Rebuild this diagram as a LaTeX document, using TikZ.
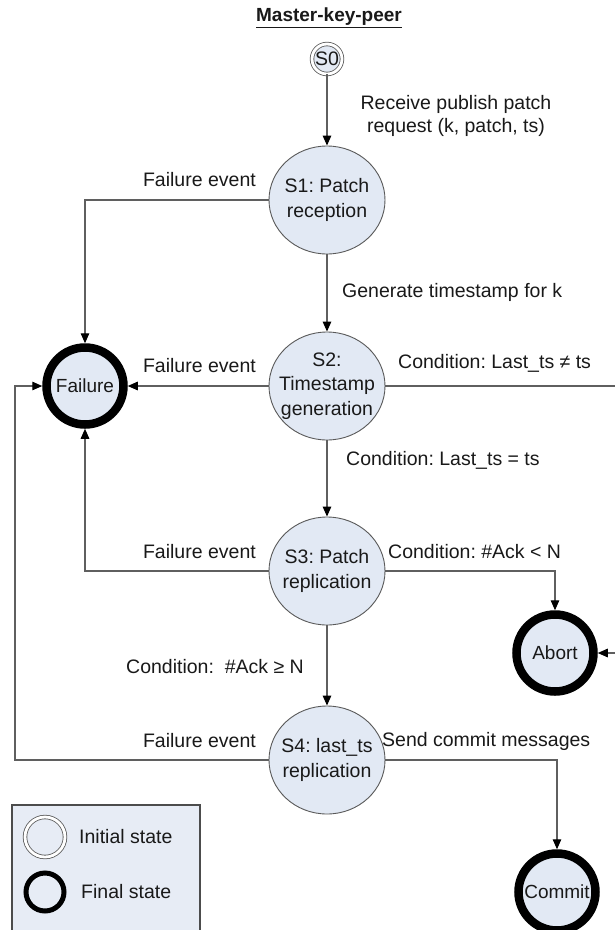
\documentclass[tikz,border=0pt]{standalone}
\usepackage{fontspec}
\setmainfont{Liberation Sans}
\usetikzlibrary{shapes.geometric,arrows.meta}
\frenchspacing

\definecolor{stfill}{RGB}{226,233,244}
\definecolor{legfill}{RGB}{231,236,245}
\definecolor{wire}{RGB}{95,95,95}

\begin{document}
\begin{tikzpicture}[x=1pt,y=-1pt,
  txt/.style={font=\fontsize{19.5}{23}\selectfont, text=black!90},
  stnode/.style={ellipse, draw=black!65, line width=0.9pt, fill=stfill, minimum width=116pt,
    minimum height=108pt, inner sep=-10pt, align=center, txt, font=\fontsize{19.5}{24.5}\selectfont},
  finalst/.style={circle, draw=black, line width=8.5pt, fill=stfill, minimum size=77pt, inner sep=0pt,
    txt, font=\fontsize{19}{22}\selectfont},
  initst/.style={circle, draw=black!65, line width=0.8pt, double=white, double distance=2.8pt,
    fill=stfill, minimum size=30pt, inner sep=-2pt, txt},
  lbl/.style={txt, inner sep=0pt},
  arr/.style={draw=wire, line width=1.3pt, -{Triangle[length=10pt,width=8.5pt,color=black]}}]
  \useasboundingbox (0,0) rectangle (615,930);
  \clip (0,0) rectangle (615,930);
  \fill[white] (0,0) rectangle (615,930);

  % Title
  \node[txt, font=\bfseries\fontsize{19}{22}\selectfont] (title) at (329,18) {\underline{Master-key-peer}};

  % States
  \node[initst] (s0) at (327,59) {S0};
  \node[stnode] (s1) at (327,200) {S1: Patch\\reception};
  \node[stnode] (s2) at (327,386) {S2:\\Timestamp\\generation};
  \node[stnode] (s3) at (327,571) {S3: Patch\\replication};
  \node[stnode] (s4) at (327,760) {S4: last\_ts\\replication};
  \node[finalst] (fail) at (85,386) {Failure};
  \node[finalst] (abort) at (555,653) {Abort};
  \node[finalst] (commit) at (557,892) {Commit};

  % Transitions
  \coordinate (lcorner) at (15,760);
  \coordinate (rcorner) at (621,386);
  \draw[arr] (s0) -- (s1);
  \draw[arr] (s1) -- (s2);
  \draw[arr] (s2) -- (s3);
  \draw[arr] (s3) -- (s4);
  \draw[arr] (s1.west) -| (fail.north);
  \draw[arr] (s2.west) -- (fail.east);
  \draw[arr] (s3.west) -| (fail.south);
  \draw[arr] (s4.west) -- (lcorner) |- (fail.west);
  \draw[arr] (s2.east) -- (rcorner) |- (abort.east);
  \draw[arr] (s3.east) -| (abort.north);
  \draw[arr] (s4.east) -| (commit.north);

  % Labels
  \node[lbl, align=center] (recv) at (456,116) {Receive publish patch\\request (k, patch, ts)};
  \node[lbl, anchor=east] (fe1) at (256,180) {Failure event};
  \node[lbl, anchor=east] (fe2) at (256,366) {Failure event};
  \node[lbl, anchor=east] (fe3) at (256,552) {Failure event};
  \node[lbl, anchor=east] (fe4) at (256,741) {Failure event};
  \node[lbl, anchor=west] (gen) at (342,292) {Generate timestamp for k};
  \node[lbl, anchor=west] (cneq) at (398,363) {Condition: Last\_ts ≠ ts};
  \node[lbl, anchor=west] (ceq) at (346,460) {Condition: Last\_ts = ts};
  \node[lbl, anchor=west] (cless) at (388,552) {Condition: \#Ack < N};
  \node[lbl, anchor=east] (cgeq) at (304,667) {Condition:\ \ \#Ack ≥ N};
  \node[lbl, anchor=west] (send) at (382,741) {Send commit messages};

  % Legend
  \draw[draw=black!70, line width=1.2pt, fill=legfill] (12,805) rectangle (200,945);
  \node[initst, fill=none, minimum size=40pt] (leginit) at (45,837) {};
  \node[lbl, anchor=west] (leginittxt) at (79,837) {Initial state};
  \node[finalst, fill=none, line width=5pt, minimum size=38pt] (legfinal) at (45,892) {};
  \node[lbl, anchor=west] (legfinaltxt) at (81,892) {Final state};
\end{tikzpicture}
\end{document}
